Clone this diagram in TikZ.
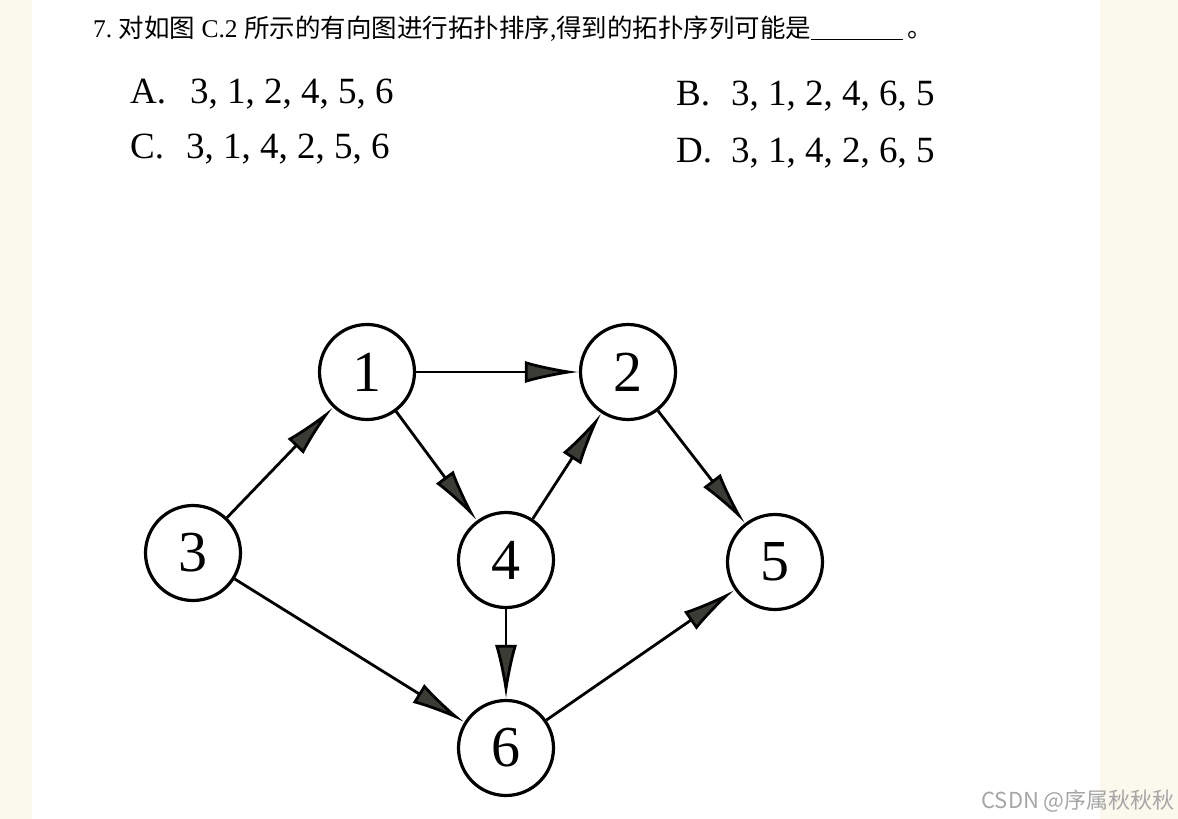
\documentclass[tikz,border=0pt]{standalone}
\usepackage{fontspec}
\setmainfont{Liberation Serif}
\newfontfamily\cjk{Noto Sans CJK SC}
\usetikzlibrary{arrows.meta}
\definecolor{paper}{RGB}{251,248,238}
\definecolor{headfill}{RGB}{60,60,55}
\begin{document}
\begin{tikzpicture}[x=1pt,y=-1pt,
  vert/.style={circle,draw,line width=3.2pt,minimum size=95pt,inner sep=0pt,font=\fontsize{58}{60}\selectfont},
  edge/.style={line width=2.8pt,-{Latex[length=54pt,width=22pt,fill=headfill]}},
  opt/.style={anchor=base west,inner sep=0pt,font=\fontsize{37}{40}\selectfont},
  title/.style={anchor=base west,inner sep=0pt,font=\fontsize{25.5}{28}\selectfont}]
\fill[white] (0,0) rectangle (1178,819);
\fill[paper] (0,0) rectangle (32,819);
\fill[paper] (1100,0) rectangle (1178,819);
\useasboundingbox (0,0) rectangle (1178,819);

\node[title] (q) at (93,37) {7.\ {\cjk 对如图}\ C.2\ {\cjk 所示的有向图进行拓扑排序},{\cjk 得到的拓扑序列可能是}\rule[-3pt]{92pt}{1.2pt}\,{\cjk 。}};

\node[opt] (la) at (130,103) {A.};
\node[opt] (sa) at (190,103) {3, 1, 2, 4, 5, 6};
\node[opt] (lb) at (676,105) {B.};
\node[opt] (sb) at (731,105) {3, 1, 2, 4, 6, 5};
\node[opt] (lc) at (130,158) {C.};
\node[opt] (sc) at (186,158) {3, 1, 4, 2, 5, 6};
\node[opt] (ld) at (676,162) {D.};
\node[opt] (sd) at (731,162) {3, 1, 4, 2, 6, 5};

\node[vert] (n1) at (367,372) {1};
\node[vert] (n2) at (628,372) {2};
\node[vert] (n3) at (193,553) {3};
\node[vert] (n4) at (506,560) {4};
\node[vert] (n5) at (775,562) {5};
\node[vert] (n6) at (506,748) {6};

\draw[edge] (n1) -- (n2);
\draw[edge] (n1) -- (n4);
\draw[edge] (n3) -- (n1);
\draw[edge] (n3) -- (n6);
\draw[edge] (n4) -- (n2);
\draw[edge] (n4) -- (n6);
\draw[edge] (n2) -- (n5);
\draw[edge] (n6) -- (n5);

\node[anchor=base east,inner sep=0pt,text=black!35,font=\cjk\fontsize{22}{24}\selectfont] (wm) at (1175,808) {CSDN @序属秋秋秋};
\end{tikzpicture}
\end{document}
